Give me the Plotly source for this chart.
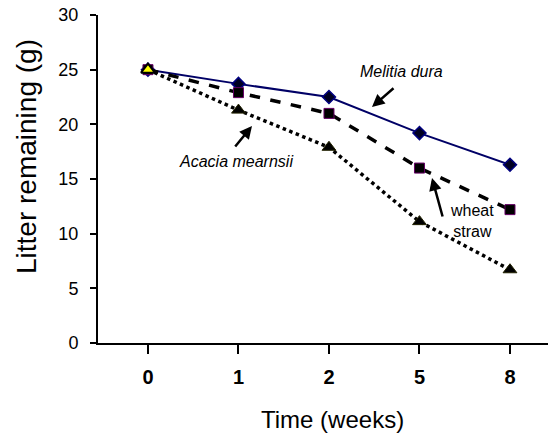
import plotly.graph_objects as go

weeks = ["0", "1", "2", "5", "8"]
melitia_dura = [25.0, 23.7, 22.5, 19.2, 16.3]
wheat_straw = [25.0, 22.9, 21.0, 16.0, 12.2]
acacia_mearnsii = [25.0, 21.3, 17.9, 11.1, 6.7]
y_ticks = [0, 5, 10, 15, 20, 25, 30]

FONT = "Liberation Sans, Arial, sans-serif"

fig = go.Figure()
fig.add_trace(go.Scatter(
    x=weeks, y=melitia_dura, mode="lines+markers", name="Melitia dura",
    line=dict(color="#000066", width=2),
    marker=dict(symbol="diamond", size=10, color="#000022",
                line=dict(color="#000080", width=1.5)),
))
fig.add_trace(go.Scatter(
    x=weeks, y=wheat_straw, mode="lines+markers", name="wheat straw",
    line=dict(color="black", width=3.5, dash="dash"),
    marker=dict(symbol="square", size=10, color="black",
                line=dict(color="#660066", width=1)),
))
fig.add_trace(go.Scatter(
    x=weeks, y=acacia_mearnsii, mode="lines+markers", name="Acacia mearnsii",
    line=dict(color="black", width=3.5, dash="dot"),
    marker=dict(symbol="triangle-up", size=12,
                color=["#ffff00", "black", "black", "black", "black"],
                line=dict(color=["#000000", "#222200", "#222200", "#222200", "#222200"], width=[2, 1, 1, 1, 1])),
))

fig.update_layout(
    width=548, height=436,
    margin=dict(l=98, r=0, t=15, b=93, autoexpand=False),
    paper_bgcolor="white", plot_bgcolor="white",
    showlegend=False,
    font=dict(family=FONT, color="black"),
    xaxis=dict(
        type="category", range=[-0.552, 4.42], automargin=False,
        showline=True, linecolor="black", linewidth=2,
        ticks="outside", ticklen=9, tickwidth=2, tickcolor="black",
        tickfont=dict(size=20, family="Liberation Sans, Arial", weight="bold"),
        ticklabelstandoff=6,
        showgrid=False, zeroline=False,
    ),
    yaxis=dict(
        range=[0, 30], tickvals=y_ticks, automargin=False,
        showline=True, linecolor="black", linewidth=2,
        ticks="outside", ticklen=6, tickwidth=2, tickcolor="black",
        tickfont=dict(size=18),
        ticklabelstandoff=8,
        showgrid=False, zeroline=False,
    ),
    annotations=[
        dict(text="Time (weeks)", xref="paper", yref="paper",
             x=(332 - 98) / 450, y=-(419 - 343) / 328, showarrow=False,
             font=dict(size=24), xanchor="center", yanchor="middle"),
        dict(text="Litter remaining (g)", xref="paper", yref="paper",
             x=-(98 - 26) / 450, y=(343 - 157) / 328, showarrow=False,
             textangle=-90, font=dict(size=28), xanchor="center", yanchor="middle"),
        dict(text="<i>Melitia dura</i>", xref="paper", yref="paper",
             x=(401 - 98) / 450, y=(343 - 71) / 328, showarrow=False,
             font=dict(size=16), xanchor="center", yanchor="middle"),
        dict(text="<i>Acacia mearnsii</i>", xref="paper", yref="paper",
             x=(236 - 98) / 450, y=(343 - 162) / 328, showarrow=False,
             font=dict(size=16), xanchor="center", yanchor="middle"),
        dict(text="wheat<br>straw", xref="paper", yref="paper",
             x=(472 - 98) / 450, y=(343 - 221) / 328, showarrow=False,
             font=dict(size=16), xanchor="center", yanchor="middle"),
        # arrows
        dict(xref="paper", yref="paper", axref="pixel", ayref="pixel",
             x=(372 - 98) / 450, y=(343 - 107) / 328, ax=23, ay=-20,
             text="", showarrow=True, arrowhead=2, arrowsize=1, arrowwidth=2.5,
             arrowcolor="black"),
        dict(xref="paper", yref="paper", axref="pixel", ayref="pixel",
             x=(252 - 98) / 450, y=(343 - 126) / 328, ax=-18, ay=22,
             text="", showarrow=True, arrowhead=2, arrowsize=1, arrowwidth=2.5,
             arrowcolor="black"),
        dict(xref="paper", yref="paper", axref="pixel", ayref="pixel",
             x=(432 - 98) / 450, y=(343 - 178) / 328, ax=11, ay=40,
             text="", showarrow=True, arrowhead=2, arrowsize=1, arrowwidth=2.5,
             arrowcolor="black"),
    ],
)

fig.write_html("out.html", config={"displayModeBar": False},
               post_script="document.body.style.margin='0';document.body.style.overflow='hidden';")
